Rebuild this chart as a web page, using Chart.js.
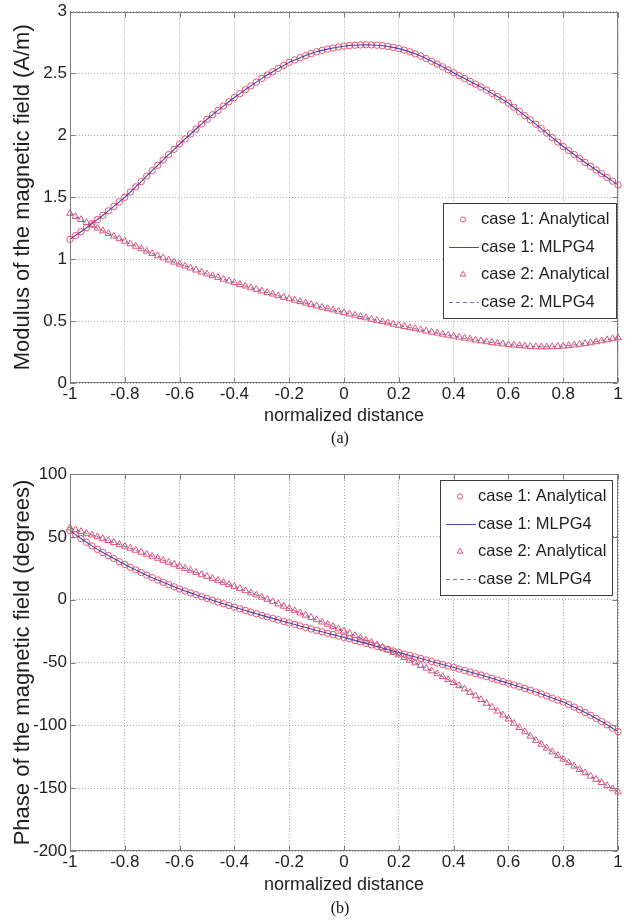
<!DOCTYPE html>
<html><head><meta charset="utf-8">
<script src="https://cdn.jsdelivr.net/npm/chart.js@4.4.0/dist/chart.umd.min.js"></script>
<style>
html,body{margin:0;padding:0;background:#fff;}
body{width:636px;height:922px;position:relative;overflow:hidden;}
canvas{position:absolute;left:0;}
#ca{top:0;} #cb{top:460px;}
.cap{position:absolute;left:0;width:680px;text-align:center;font-family:"Liberation Serif","Times New Roman",serif;font-size:16px;line-height:18px;color:#111;}
#capA{top:429px;} #capB{top:899px;}
</style></head>
<body>
<canvas id="ca" width="636" height="460"></canvas>
<canvas id="cb" width="636" height="462"></canvas>
<div class="cap" id="capA">(a)</div>
<div class="cap" id="capB">(b)</div>
<script>
// ---------- data ----------
const xValues = [-1,-0.98,-0.96,-0.94,-0.92,-0.9,-0.88,-0.86,-0.84,-0.82,-0.8,-0.78,-0.76,-0.74,-0.72,-0.7,-0.68,-0.66,-0.64,-0.62,-0.6,-0.58,-0.56,-0.54,-0.52,-0.5,-0.48,-0.46,-0.44,-0.42,-0.4,-0.38,-0.36,-0.34,-0.32,-0.3,-0.28,-0.26,-0.24,-0.22,-0.2,-0.18,-0.16,-0.14,-0.12,-0.1,-0.08,-0.06,-0.04,-0.02,0,0.02,0.04,0.06,0.08,0.1,0.12,0.14,0.16,0.18,0.2,0.22,0.24,0.26,0.28,0.3,0.32,0.34,0.36,0.38,0.4,0.42,0.44,0.46,0.48,0.5,0.52,0.54,0.56,0.58,0.6,0.62,0.64,0.66,0.68,0.7,0.72,0.74,0.76,0.78,0.8,0.82,0.84,0.86,0.88,0.9,0.92,0.94,0.96,0.98,1];

const modulusCase1 = [1.160,1.191,1.222,1.254,1.287,1.320,1.355,1.390,1.426,1.463,1.500,1.542,1.584,1.627,1.671,1.715,1.758,1.801,1.844,1.887,1.930,1.971,2.011,2.051,2.091,2.130,2.166,2.201,2.236,2.271,2.305,2.337,2.368,2.399,2.430,2.460,2.487,2.514,2.540,2.565,2.590,2.609,2.627,2.644,2.660,2.675,2.686,2.696,2.705,2.713,2.720,2.725,2.728,2.730,2.731,2.730,2.728,2.724,2.718,2.710,2.700,2.688,2.674,2.658,2.640,2.620,2.598,2.576,2.553,2.529,2.505,2.482,2.459,2.436,2.413,2.390,2.365,2.339,2.313,2.287,2.260,2.227,2.193,2.159,2.125,2.090,2.054,2.018,1.982,1.946,1.910,1.877,1.845,1.813,1.781,1.750,1.720,1.690,1.660,1.630,1.600];

const modulusCase2 = [1.370,1.345,1.320,1.296,1.273,1.250,1.228,1.207,1.186,1.165,1.145,1.124,1.104,1.084,1.064,1.045,1.027,1.010,0.993,0.976,0.960,0.944,0.928,0.912,0.896,0.880,0.866,0.852,0.838,0.824,0.810,0.796,0.783,0.769,0.756,0.743,0.730,0.718,0.705,0.692,0.680,0.668,0.657,0.645,0.634,0.622,0.611,0.600,0.590,0.579,0.568,0.557,0.547,0.536,0.526,0.515,0.505,0.495,0.485,0.475,0.465,0.456,0.447,0.438,0.429,0.420,0.411,0.403,0.394,0.386,0.378,0.370,0.362,0.355,0.347,0.340,0.333,0.327,0.321,0.315,0.310,0.306,0.302,0.298,0.295,0.293,0.292,0.292,0.293,0.295,0.298,0.302,0.307,0.313,0.319,0.325,0.333,0.341,0.349,0.357,0.365];

const phaseCase1 = [55,51.8,48.7,45.7,42.8,40,37.5,35.1,32.7,30.3,28,25.8,23.7,21.6,19.5,17.5,15.6,13.8,12.0,10.2,8.5,6.9,5.4,3.9,2.4,1,-0.4,-1.8,-3.2,-4.6,-6,-7.3,-8.6,-9.9,-11.2,-12.5,-13.7,-14.9,-16.1,-17.3,-18.5,-19.7,-20.9,-22.1,-23.3,-24.5,-25.6,-26.7,-27.8,-28.9,-30,-31.2,-32.4,-33.6,-34.8,-36,-37.2,-38.4,-39.6,-40.8,-42,-43.2,-44.4,-45.6,-46.8,-48,-49.2,-50.4,-51.6,-52.8,-54,-55.2,-56.4,-57.6,-58.8,-60,-61.3,-62.6,-63.9,-65.2,-66.5,-67.9,-69.3,-70.7,-72.1,-73.5,-75.1,-76.7,-78.3,-79.9,-81.5,-83.5,-85.5,-87.6,-89.8,-92,-94.5,-97.0,-99.6,-102.3,-105];

const phaseCase2 = [57,55.6,54.2,52.8,51.4,50,48.5,47,45.5,44,42.5,40.9,39.3,37.7,36.1,34.5,32.9,31.3,29.7,28.1,26.5,24.9,23.3,21.7,20.1,18.5,16.9,15.3,13.7,12.1,10.5,8.8,7.1,5.4,3.7,2,0.2,-1.6,-3.4,-5.2,-7,-8.8,-10.6,-12.4,-14.2,-16,-17.8,-19.6,-21.4,-23.2,-25,-26.8,-28.6,-30.4,-32.2,-34,-36,-38,-40,-42,-44,-46.1,-48.2,-50.3,-52.4,-54.5,-56.7,-58.9,-61.2,-63.6,-66,-68.5,-71.1,-73.8,-76.6,-79.5,-82.5,-85.6,-88.7,-91.8,-95,-98.4,-101.8,-105.2,-108.6,-112,-115.1,-118.1,-121.1,-124.1,-127,-129.8,-132.5,-135.2,-137.8,-140.5,-143,-145.5,-148,-150.5,-153];

const xTickValues = [-1,-0.8,-0.6,-0.4,-0.2,0,0.2,0.4,0.6,0.8,1];
const xTickLabels = ['-1','-0.8','-0.6','-0.4','-0.2','0','0.2','0.4','0.6','0.8','1'];
const yTickValuesA = [0,0.5,1,1.5,2,2.5,3];
const yTickLabelsA = ['0','0.5','1','1.5','2','2.5','3'];
const yTickValuesB = [-200,-150,-100,-50,0,50,100];
const yTickLabelsB = ['-200','-150','-100','-50','0','50','100'];
const seriesLabels = ['case 1: Analytical','case 1: MLPG4','case 2: Analytical','case 2: MLPG4'];

// ---------- styling ----------
const FONT = '"Liberation Sans", Arial, Helvetica, sans-serif';
Chart.defaults.font.family = FONT;
const MARK = '#e8536f', LINE1 = '#4c42a8', LINE2 = '#7272c4';
const GRID = 'rgba(0,0,0,0.33)', TXT = '#1e1e1e';

function makeDatasets(c1, c2) {
  return [
    {label: seriesLabels[0], data: c1, showLine: false, pointStyle: 'circle', pointRadius: 3.2,
     pointBorderWidth: 1, pointBorderColor: MARK, pointBackgroundColor: 'rgba(0,0,0,0)', order: 2, clip: false, legendKind: 'circle'},
    {label: seriesLabels[1], data: c1, borderColor: LINE1, borderWidth: 1.1, pointRadius: 0, fill: false,
     order: 1, clip: false, legendKind: 'line'},
    {label: seriesLabels[2], data: c2, showLine: false, pointStyle: 'triangle', pointRadius: 3.9,
     pointBorderWidth: 1, pointBorderColor: MARK, pointBackgroundColor: 'rgba(0,0,0,0)', order: 2, clip: false, legendKind: 'triangle'},
    {label: seriesLabels[3], data: c2, borderColor: LINE2, borderWidth: 1.1, borderDash: [4, 3], pointRadius: 0, fill: false,
     order: 1, clip: false, legendKind: 'dash'}
  ];
}

const frameLegend = {
  id: 'frameLegend',
  afterDatasetsDraw(chart, args, o) {
    const ctx = chart.ctx, a = chart.chartArea, sx = chart.scales.x, sy = chart.scales.y;
    const L = Math.round(a.left) + 0.5, R = Math.round(a.right) - 0.5;
    const T = Math.round(a.top) + 0.5, B = Math.round(a.bottom) - 0.5;
    ctx.save();
    ctx.setLineDash([]);
    ctx.lineWidth = 1;
    ctx.strokeStyle = o.frameColor;
    ctx.strokeRect(L, T, R - L, B - T);
    ctx.beginPath();
    sx.ticks.forEach(t => {
      const p = Math.round(sx.getPixelForValue(t.value)) + 0.5;
      ctx.moveTo(p, B); ctx.lineTo(p, B - o.tick);
      ctx.moveTo(p, T); ctx.lineTo(p, T + o.tick);
    });
    sy.ticks.forEach(t => {
      const p = Math.round(sy.getPixelForValue(t.value)) + 0.5;
      ctx.moveTo(L, p); ctx.lineTo(L + o.tick, p);
      ctx.moveTo(R, p); ctx.lineTo(R - o.tick, p);
    });
    ctx.stroke();

    // legend box
    const g = o.box;
    ctx.fillStyle = '#fff';
    ctx.fillRect(g.left, g.top, g.right - g.left, g.bottom - g.top);
    ctx.strokeStyle = o.legendBorder;
    ctx.strokeRect(g.left + 0.5, g.top + 0.5, g.right - g.left - 1, g.bottom - g.top - 1);
    ctx.font = o.legendFont;
    ctx.textBaseline = 'middle';
    ctx.textAlign = 'left';
    chart.data.datasets.forEach((ds, i) => {
      const y = Math.round(g.top + g.first + i * g.step) + 0.5;
      const xm = g.left + g.marker;
      ctx.lineWidth = 1;
      if (ds.legendKind === 'circle') {
        ctx.setLineDash([]);
        ctx.strokeStyle = ds.pointBorderColor;
        ctx.beginPath(); ctx.arc(xm, y, 2.6, 0, Math.PI * 2); ctx.stroke();
      } else if (ds.legendKind === 'triangle') {
        ctx.setLineDash([]);
        ctx.strokeStyle = ds.pointBorderColor;
        const r = 3.3;
        ctx.beginPath();
        for (let k = 0; k < 3; k++) {
          const ang = k * 2 * Math.PI / 3;
          const px = xm + Math.sin(ang) * r, py = y - Math.cos(ang) * r;
          if (k === 0) ctx.moveTo(px, py); else ctx.lineTo(px, py);
        }
        ctx.closePath(); ctx.stroke();
      } else {
        ctx.setLineDash(ds.borderDash || []);
        ctx.strokeStyle = ds.borderColor;
        ctx.beginPath(); ctx.moveTo(g.left + g.s0, y); ctx.lineTo(g.left + g.s1, y); ctx.stroke();
      }
      ctx.setLineDash([]);
      ctx.fillStyle = TXT;
      ctx.fillText(ds.label, g.left + g.text, y);
    });
    ctx.restore();
  }
};

function makeChart(id, c1, c2, yMin, yMax, yVals, yLabs, yTitle, pad, xH, xTitlePad, box) {
  return new Chart(document.getElementById(id), {
    type: 'line',
    data: {labels: xValues, datasets: makeDatasets(c1, c2)},
    options: {
      responsive: false, animation: false, devicePixelRatio: 1, events: [],
      layout: {padding: pad},
      plugins: {
        legend: {display: false}, tooltip: {enabled: false},
        frameLegend: {frameColor: '#7c7c7c', tick: 5, legendBorder: '#3c3c3c',
                      legendFont: '16.5px ' + FONT, box: box}
      },
      scales: {
        x: {
          type: 'linear', min: -1, max: 1,
          afterBuildTicks: s => { s.ticks = xTickValues.map(v => ({value: v})); },
          afterFit: s => { s.height = xH; },
          ticks: {autoSkip: false, maxRotation: 0, padding: 3, color: TXT,
                  font: {size: 17, lineHeight: 1}, callback: (v, i) => xTickLabels[i]},
          grid: {color: GRID, lineWidth: 1, drawTicks: false},
          border: {display: false, dash: [1, 2]},
          title: {display: true, text: 'normalized distance', color: TXT, font: {size: 18},
                  padding: {top: 0, bottom: xTitlePad}}
        },
        y: {
          type: 'linear', min: yMin, max: yMax,
          afterBuildTicks: s => { s.ticks = yVals.map(v => ({value: v})); },
          afterFit: s => { s.width = 70; },
          ticks: {padding: 3, color: TXT, font: {size: 17, lineHeight: 1},
                  callback: (v, i) => yLabs[i]},
          grid: {color: GRID, lineWidth: 1, drawTicks: false},
          border: {display: false, dash: [1, 2]},
          title: {display: true, text: yTitle, color: TXT, font: {size: 22},
                  padding: {top: 10, bottom: 0}}
        }
      }
    },
    plugins: [frameLegend]
  });
}

makeChart('ca', modulusCase1, modulusCase2, 0, 3, yTickValuesA, yTickLabelsA,
  'Modulus of the magnetic field (A/m)', {left: 0, right: 18, top: 9, bottom: 0}, 77, 33,
  {left: 443, right: 617, top: 203, bottom: 319, first: 16, step: 27.5, s0: 6, s1: 36, marker: 20, text: 38});

makeChart('cb', phaseCase1, phaseCase2, -200, 100, yTickValuesB, yTickLabelsB,
  'Phase of the magnetic field (degrees)', {left: 0, right: 18, top: 14, bottom: 0}, 71, 26,
  {left: 440, right: 613, top: 20, bottom: 136, first: 16, step: 27.5, s0: 6, s1: 36, marker: 20, text: 38});
</script>
</body></html>
